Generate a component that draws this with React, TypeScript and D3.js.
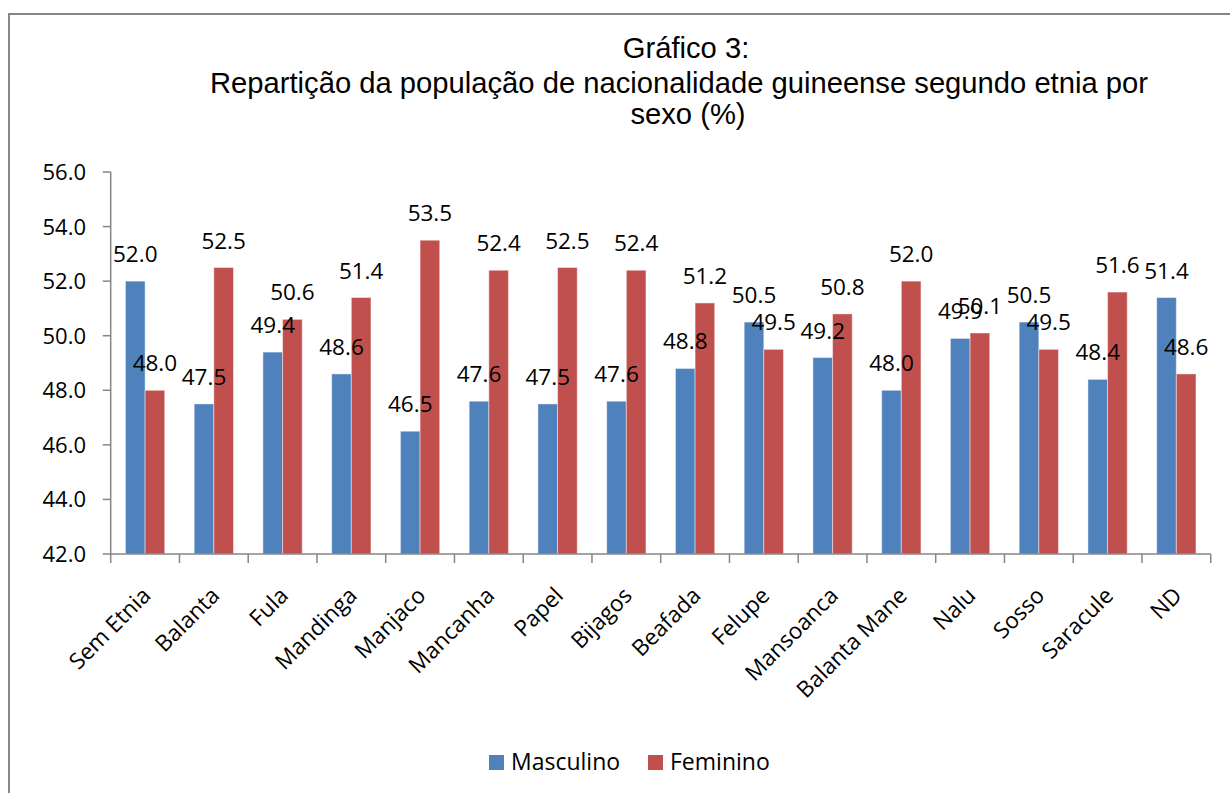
import React from "react";
import * as d3 from "d3";

const categories = [
  "Sem Etnia", "Balanta", "Fula", "Mandinga", "Manjaco", "Mancanha", "Papel", "Bijagos",
  "Beafada", "Felupe", "Mansoanca", "Balanta Mane", "Nalu", "Sosso", "Saracule", "ND",
];
const masculino = [52.0, 47.5, 49.4, 48.6, 46.5, 47.6, 47.5, 47.6, 48.8, 50.5, 49.2, 48.0, 49.9, 50.5, 48.4, 51.4];
const feminino = [48.0, 52.5, 50.6, 51.4, 53.5, 52.4, 52.5, 52.4, 51.2, 49.5, 50.8, 52.0, 50.1, 49.5, 51.6, 48.6];
const yTicks = [42, 44, 46, 48, 50, 52, 54, 56];
const seriesNames = ["Masculino", "Feminino"];
const seriesColors = ["#4F81BD", "#C0504D"];
const titleLines = ["Gráfico 3:", "Repartição da população de nacionalidade guineense segundo etnia por", "sexo (%)"];

export default function App() {
  const W = 1230, H = 793;
  const left = 110.7, right = 1210.7, top = 172, bottom = 554;
  const x = d3.scaleBand<string>().domain(categories).range([left, right]).paddingInner(0).paddingOuter(0);
  const y = d3.scaleLinear().domain([42, 56]).range([bottom, top]);
  const bw = x.bandwidth() / 3.5;
  const font = "'Open Sans', sans-serif";
  const axisColor = "#868686";
  const series = [masculino, feminino];
  const titleX = [686, 679, 688];
  const titleY = [58, 93, 124];

  return (
    <svg width={W} height={H} style={{ position: "absolute", left: 0, top: 0, background: "#fff" }}>
      <rect x={9} y={14} width={1240} height={800} fill="#fff" stroke={axisColor} strokeWidth={2} />
      {titleLines.map((t, i) => (
        <text key={i} x={titleX[i]} y={titleY[i]} textAnchor="middle" fontFamily="'Liberation Sans', Arial, sans-serif" fontSize={29.2} fill="#000">{t}</text>
      ))}
      {/* bars */}
      {categories.map((c, i) => {
        const cx = (x(c) as number) + x.bandwidth() / 2;
        return series.map((s, k) => {
          const bx = cx - bw + k * bw;
          const v = s[i];
          return (
            <rect key={c + k} x={bx} y={y(v)} width={bw} height={bottom - y(v)} fill={seriesColors[k]} stroke="rgba(255,255,255,0.45)" strokeWidth={1} />
          );
        });
      })}
      {/* y axis */}
      <line x1={left} x2={left} y1={top} y2={bottom} stroke={axisColor} strokeWidth={1.5} />
      {yTicks.map((t) => (
        <g key={t}>
          <line x1={left - 8} x2={left} y1={y(t)} y2={y(t)} stroke={axisColor} strokeWidth={1.5} />
          <text x={86} y={y(t) + 8} textAnchor="end" fontFamily={font} fontSize={22} fill="#000">{t.toFixed(1)}</text>
        </g>
      ))}
      {/* x axis */}
      <line x1={left} x2={right} y1={bottom} y2={bottom} stroke={axisColor} strokeWidth={1.5} />
      {d3.range(categories.length + 1).map((i) => {
        const tx = left + i * x.bandwidth();
        return <line key={i} x1={tx} x2={tx} y1={bottom} y2={bottom + 9} stroke={axisColor} strokeWidth={1.5} />;
      })}
      {categories.map((c) => {
        const cx = (x(c) as number) + x.bandwidth() / 2;
        return (
          <text key={c} transform={`translate(${cx + 7},${bottom + 43}) rotate(-45)`} textAnchor="end" fontFamily={font} fontSize={22.5} fill="#000">{c}</text>
        );
      })}
      {/* data labels */}
      {categories.map((c, i) => {
        const cx = (x(c) as number) + x.bandwidth() / 2;
        return series.map((s, k) => {
          const lx = cx - bw / 2 + k * bw;
          return (
            <text key={c + "l" + k} x={lx} y={y(s[i]) - 19} textAnchor="middle" fontFamily={font} fontSize={22.5} fill="#000">{s[i].toFixed(1)}</text>
          );
        });
      })}
      {/* legend */}
      {seriesNames.map((n, k) => {
        const lx = [489, 648][k];
        return (
          <g key={n}>
            <rect x={lx} y={755} width={15} height={15} fill={seriesColors[k]} />
            <text x={lx + 22} y={770} fontFamily={font} fontSize={23} fill="#000">{n}</text>
          </g>
        );
      })}
    </svg>
  );
}
